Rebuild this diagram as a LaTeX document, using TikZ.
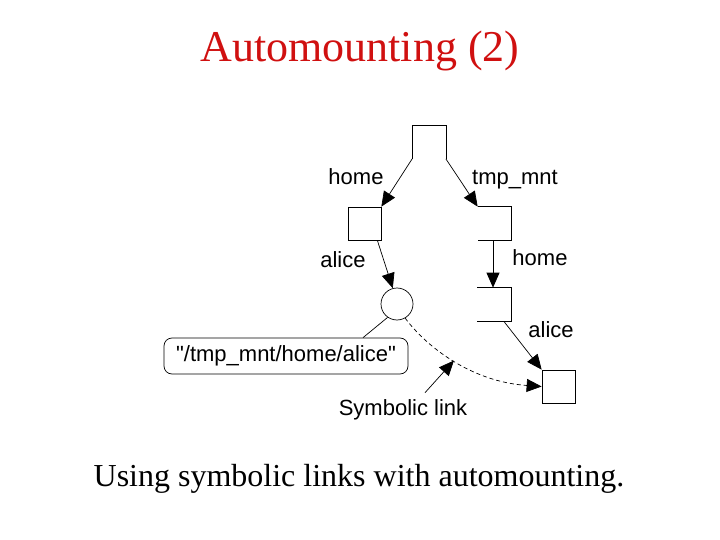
\documentclass[tikz,border=0pt]{standalone}
\usepackage{fontspec}
\setmainfont{Liberation Serif}
\setsansfont{Liberation Sans}[Ligatures=TeXOff]
\usetikzlibrary{arrows.meta, positioning, calc}
\definecolor{slideRed}{HTML}{D01010}
\tikzset{
  fsnode/.style  = {rectangle, minimum size=33pt, inner sep=0pt},
  dirnode/.style = {fsnode, draw},
  linknode/.style= {circle, draw, minimum size=32pt, inner sep=0pt},
  lbl/.style     = {font=\sffamily\fontsize{22}{26}\selectfont,
                    inner sep=0pt, anchor=base},
  edge/.style    = {-{Triangle[length=15pt, width=13pt]}, line width=0.7pt},
  symedge/.style = {edge, dash pattern=on 4pt off 3pt},
}

\begin{document}
\begin{tikzpicture}[x=1pt, y=-1pt, line width=0.7pt]
    \useasboundingbox (0,0) rectangle (720,540);
    \node[font=\fontsize{44}{50}\selectfont, text=slideRed, anchor=base,
          inner sep=0pt] (title) at (360,62) {Automounting (2)};

    \node[fsnode]   (root)    at (429,142)     {};
    \node[dirnode]  (home)    at (364.5,223.5) {};
    \node[fsnode]   (tmp)     at (494.5,223.5) {};
    \node[fsnode]   (tmphome) at (494,304.5)   {};
    \node[linknode] (link)    at (397,304)     {};
    \node[dirnode]  (target)  at (558.5,386.5) {};
    \node[draw, rounded corners=8pt, minimum width=244pt, minimum height=36pt,
          inner sep=0pt, font=\sffamily\fontsize{22}{26}\selectfont]
          (path) at (286,356) {"/tmp\_mnt/home/alice"};

    \draw (root.south west) -- (root.north west) -- (root.north east)
          -- (root.south east);
    \draw (tmp.north west) -- (tmp.north east) -- (tmp.south east)
          -- (tmp.south west);
    \draw (tmphome.north west) -- (tmphome.north east)
          -- (tmphome.south east) -- (tmphome.south west);

    \draw[edge] (root.south west) -- (home.north east);
    \draw[edge] (root.south east) -- (tmp.north west);
    \draw[edge] ([xshift=-4pt]home.south east) -- (link.105);
    \draw[edge] ([xshift=-1.5pt]tmp.south) -- ([xshift=-1pt]tmphome.north);
    \draw[edge] ([xshift=-7pt]tmphome.south east) -- (target.north west);
    \draw (link.235) -- ([xshift=77pt]path.north);
    \draw[symedge] (link.-60) .. controls +(20,27) and +(-72,-5) .. (target.west)
          coordinate[pos=0.5] (onlink);

    \node[lbl] (lhome)  at (356,185) {home};
    \node[lbl] (ltmp)   at (515,185) {tmp\_mnt};
    \node[lbl] (lalice) at (343,267) {alice};
    \node[lbl] (rhome)  at (540,265) {home};
    \node[lbl] (ralice) at (551,337) {alice};
    \node[lbl] (symlbl) at (403,415) {Symbolic link};
    \draw[edge] ($(symlbl.north)+(22,-6)$) -- (onlink);

    \node[font=\fontsize{32}{38}\selectfont, anchor=base, inner sep=0pt]
          (caption) at (359,486) {Using symbolic links with automounting.};
  \end{tikzpicture}
\end{document}
